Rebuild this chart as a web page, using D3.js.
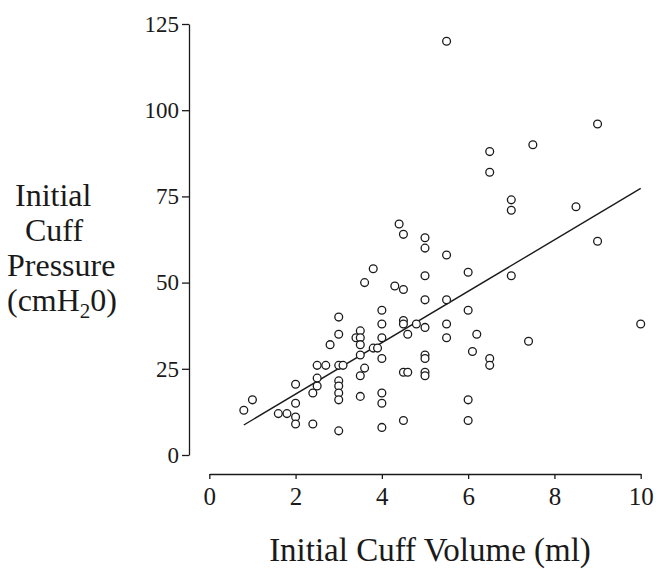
<!DOCTYPE html>
<html>
<head>
<meta charset="utf-8">
<script src="https://cdn.jsdelivr.net/npm/d3@7"></script>
<style>
  html, body { margin: 0; padding: 0; background: #fff; }
  svg { display: block; }
  svg text { font-family: "Liberation Serif", "Times New Roman", serif !important; }
</style>
</head>
<body>
<svg id="chart" width="656" height="569"></svg>
<script>
// ---- data ----
const volume = [
  0.8, 1.0, 1.6, 1.8, 2.0, 2.0, 2.0, 2.0, 2.4, 2.4,
  2.5, 2.5, 2.5, 2.7, 2.8, 3.0, 3.0, 3.0, 3.0, 3.0,
  3.0, 3.0, 3.0, 3.1, 3.4, 3.5, 3.5, 3.5, 3.5, 3.5,
  3.5, 3.6, 3.6, 3.8, 3.8, 3.9, 4.0, 4.0, 4.0, 4.0,
  4.0, 4.0, 4.0, 4.3, 4.4, 4.5, 4.5, 4.5, 4.5, 4.5,
  4.5, 4.6, 4.6, 4.8, 5.0, 5.0, 5.0, 5.0, 5.0, 5.0,
  5.0, 5.0, 5.0, 5.5, 5.5, 5.5, 5.5, 5.5, 6.0, 6.0,
  6.0, 6.0, 6.1, 6.2, 6.5, 6.5, 6.5, 6.5, 7.0, 7.0,
  7.0, 7.4, 7.5, 8.5, 9.0, 9.0, 10.0
];
const pressure = [
  13, 16, 12, 12, 20.5, 15, 11, 9, 18, 9,
  26, 22.3, 20, 26, 32, 40, 35, 26, 21.5, 20,
  18, 16, 7, 26, 34, 36, 34, 32, 29, 23,
  17, 25.2, 50, 54, 31, 31, 42, 38, 34, 28,
  18, 15, 8, 49, 67, 64, 48, 39, 38, 24,
  10, 35, 24, 38, 63, 60, 52, 45, 37, 29,
  28, 24, 23, 120, 58, 45, 38, 34, 53, 42,
  16, 10, 30, 35, 88, 82, 28, 26, 74, 71,
  52, 33, 90, 72, 96, 62, 38
];
const fitX = [0.8, 10];
const fitY = [8.7, 77.3];
const xTicks = [0, 2, 4, 6, 8, 10];
const yTicks = [0, 25, 50, 75, 100, 125];
const xTitle = "Initial Cuff Volume (ml)";
const yTitleLines = ["Initial", "Cuff", "Pressure"];

// ---- drawing ----
const svg = d3.select("#chart");
const ink = "#1a1a1a";

const x = d3.scaleLinear().domain([0, 10]).range([209.3, 640.7]);
const y = d3.scaleLinear().domain([0, 125]).range([455, 24]);

// y axis (offset left of the plot)
const yAxisG = svg.append("g")
  .attr("transform", "translate(189,0)")
  .call(d3.axisLeft(y).tickValues(yTicks).tickSize(7).tickSizeOuter(0).tickPadding(3));
yAxisG.attr("font-family", null);
yAxisG.selectAll("text").attr("font-size", 23).attr("fill", ink);
yAxisG.selectAll("line, path").attr("stroke", ink).attr("stroke-width", 1.3);

// x axis (offset below the plot)
const xAxisG = svg.append("g")
  .attr("transform", "translate(0,474)")
  .call(d3.axisBottom(x).tickValues(xTicks).tickSize(5).tickSizeOuter(0).tickPadding(8));
xAxisG.attr("font-family", null);
xAxisG.selectAll("text").attr("font-size", 25).attr("fill", ink);
xAxisG.selectAll("line, path").attr("stroke", ink).attr("stroke-width", 1.3);

// regression line
svg.append("path")
  .datum(fitX.map((v, i) => [v, fitY[i]]))
  .attr("d", d3.line().x(d => x(d[0])).y(d => y(d[1])))
  .attr("fill", "none")
  .attr("stroke", ink)
  .attr("stroke-width", 1.4);

// points
svg.append("g").selectAll("circle")
  .data(volume.map((v, i) => ({ v, p: pressure[i] })))
  .join("circle")
  .attr("cx", d => x(d.v))
  .attr("cy", d => y(d.p))
  .attr("r", 3.9)
  .attr("fill", "#fff")
  .attr("stroke", ink)
  .attr("stroke-width", 1.3);

// x title
svg.append("text")
  .attr("x", 430).attr("y", 561)
  .attr("text-anchor", "middle")
  .attr("font-size", 33)
  .attr("fill", ink)
  .text(xTitle);

// y title (stacked lines)
const yStarts = [15, 25, 7];
const yBase = [206, 241, 276];
yTitleLines.forEach((t, i) => {
  svg.append("text")
    .attr("x", yStarts[i]).attr("y", yBase[i])
    .attr("font-size", 32)
    .attr("fill", ink)
    .text(t);
});
const unit = svg.append("text")
  .attr("x", 7).attr("y", 311)
  .attr("font-size", 32)
  .attr("fill", ink);
unit.append("tspan").text("(cmH");
unit.append("tspan").attr("font-size", 21).attr("dy", 7).text("2");
unit.append("tspan").attr("dy", -7).text("0)");
</script>
</body>
</html>
